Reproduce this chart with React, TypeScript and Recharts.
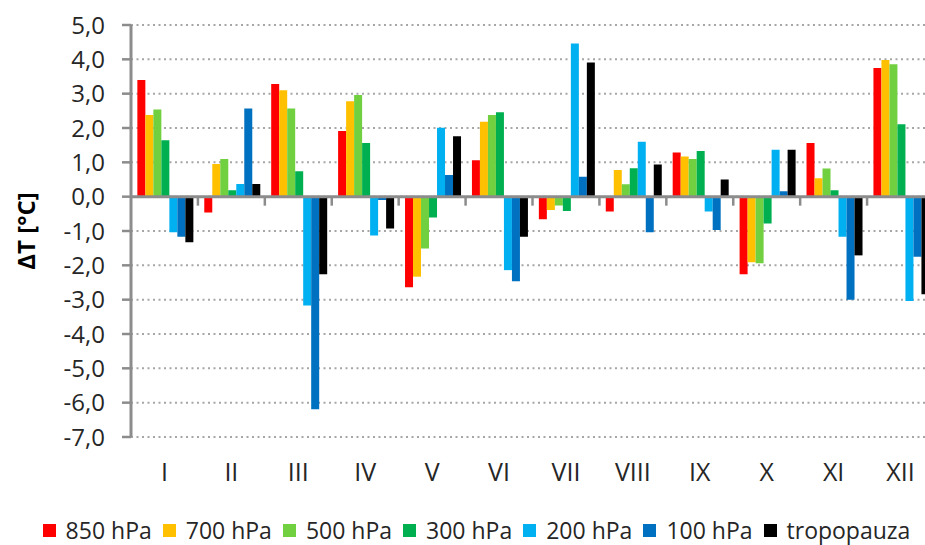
import React from 'react';
import { BarChart, Bar, XAxis, YAxis, CartesianGrid, Legend, ReferenceLine } from 'recharts';

const months = ['I', 'II', 'III', 'IV', 'V', 'VI', 'VII', 'VIII', 'IX', 'X', 'XI', 'XII'];
const p850 = [3.40, -0.46, 3.28, 1.91, -2.64, 1.06, -0.66, -0.43, 1.29, -2.26, 1.56, 3.75];
const p700 = [2.38, 0.95, 3.10, 2.78, -2.33, 2.18, -0.39, 0.78, 1.17, -1.91, 0.54, 3.98];
const p500 = [2.54, 1.10, 2.57, 2.96, -1.51, 2.38, -0.26, 0.36, 1.10, -1.94, 0.82, 3.86];
const p300 = [1.64, 0.19, 0.74, 1.56, -0.61, 2.46, -0.42, 0.83, 1.33, -0.78, 0.19, 2.11];
const p200 = [-1.04, 0.37, -3.17, -1.13, 2.01, -2.14, 4.46, 1.60, -0.43, 1.37, -1.17, -3.04];
const p100 = [-1.17, 2.57, -6.19, -0.10, 0.63, -2.46, 0.58, -1.04, -0.97, 0.16, -3.00, -1.75];
const tropo = [-1.33, 0.37, -2.26, -0.93, 1.76, -1.17, 3.91, 0.94, 0.50, 1.37, -1.71, -2.84];

const yTicks = [-7, -6, -5, -4, -3, -2, -1, 0, 1, 2, 3, 4, 5];

const series = [
  { key: 'p850', name: '850 hPa', color: '#FF0000', values: p850 },
  { key: 'p700', name: '700 hPa', color: '#FFC000', values: p700 },
  { key: 'p500', name: '500 hPa', color: '#70D040', values: p500 },
  { key: 'p300', name: '300 hPa', color: '#00B050', values: p300 },
  { key: 'p200', name: '200 hPa', color: '#00B0F0', values: p200 },
  { key: 'p100', name: '100 hPa', color: '#0070C0', values: p100 },
  { key: 'tropo', name: 'tropopauza', color: '#000000', values: tropo },
];

const data = months.map((m, i) => {
  const row: any = { month: m };
  series.forEach((s) => {
    row[s.key] = s.values[i];
  });
  return row;
});

const FONT = '"Open Sans", "Liberation Sans", Arial, sans-serif';
const AXIS_GREY = '#8c8c8c';

const ZeroLine = (props: any) => {
  const { x1, y1, x2 } = props;
  const n = months.length;
  const step = (x2 - x1) / n;
  const ticks = [];
  for (let i = 1; i <= n; i++) {
    const x = x1 + i * step;
    ticks.push(<line key={i} x1={x} y1={y1} x2={x} y2={y1 + 9} stroke={AXIS_GREY} strokeWidth={2.5} />);
  }
  return (
    <g>
      <line x1={x1} y1={y1} x2={x2} y2={y1} stroke={AXIS_GREY} strokeWidth={3} />
      {ticks}
    </g>
  );
};

const LegendContent = () => (
  <div
    style={{
      display: 'flex',
      justifyContent: 'center',
      alignItems: 'center',
      height: 30,
      paddingLeft: 30,
      fontFamily: FONT,
      fontSize: 23,
      color: '#262626',
      whiteSpace: 'nowrap',
    }}
  >
    {series.map((s) => (
      <span key={s.key} style={{ display: 'inline-flex', alignItems: 'center', marginRight: 11 }}>
        <span style={{ display: 'inline-block', width: 13, height: 13, background: s.color, marginRight: 10 }} />
        <span>{s.name}</span>
      </span>
    ))}
  </div>
);

const YLabel = (props: any) => {
  const vb = props.viewBox || {};
  const cx = (vb.x || 0) + 25;
  const cy = (vb.y || 0) + (vb.height || 0) / 2;
  return (
    <text
      x={cx}
      y={cy}
      transform={`rotate(-90 ${cx} ${cy})`}
      textAnchor="middle"
      dominantBaseline="central"
      fontFamily={FONT}
      fontWeight="bold"
      fontSize={24}
      fill="#000"
    >
      ΔT [°C]
    </text>
  );
};

export default function App() {
  return (
    <div style={{ position: 'fixed', left: 0, top: 0, width: 925, height: 545, overflow: 'hidden', background: '#fff' }}>
      <BarChart
        width={945}
        height={545}
        data={data}
        margin={{ top: 25, right: 11, bottom: 0, left: 0 }}
        barCategoryGap="9.5%"
        barGap={0}
      >
        <CartesianGrid horizontal vertical={false} stroke="#a6a6a6" strokeWidth={2} strokeDasharray="2 3.5" />
        <XAxis
          dataKey="month"
          height={78}
          axisLine={false}
          tickLine={false}
          tickSize={0}
          tickMargin={26}
          interval={0}
          tick={{ fontFamily: FONT, fontSize: 25, fill: '#262626' }}
        />
        <YAxis
          width={131}
          domain={[-7, 5]}
          ticks={yTicks}
          interval={0}
          allowDataOverflow
          axisLine={{ stroke: AXIS_GREY, strokeWidth: 3 }}
          tickLine={{ stroke: AXIS_GREY, strokeWidth: 2.5 }}
          tickSize={9}
          tickMargin={17}
          tickFormatter={(v: number) => v.toFixed(1).replace('.', ',')}
          tick={{ fontFamily: FONT, fontSize: 24, fill: '#262626' }}
          label={{ content: YLabel }}
        />
        {series.map((s) => (
          <Bar key={s.key} dataKey={s.key} name={s.name} fill={s.color} isAnimationActive={false} />
        ))}
        <ReferenceLine y={0} shape={ZeroLine} />
        <Legend verticalAlign="bottom" content={LegendContent} />
      </BarChart>
    </div>
  );
}
